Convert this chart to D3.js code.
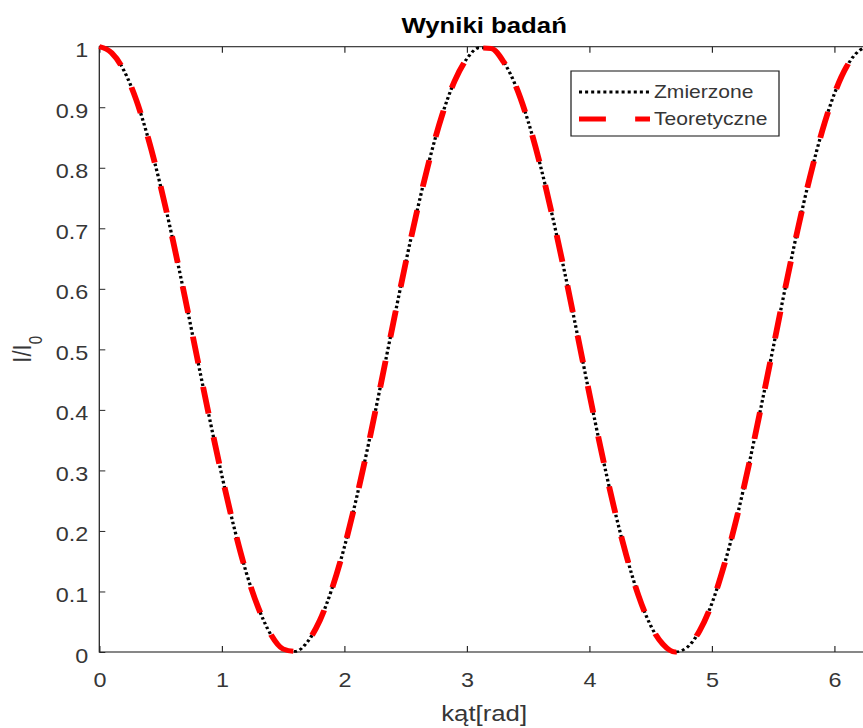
<!DOCTYPE html>
<html lang="pl">
<head>
  <meta charset="UTF-8">
  <title>Wyniki badań</title>
  <style>
    body { margin: 0; background: #fff; }
    svg { display: block; font-family: "Liberation Sans", Arial, Helvetica, sans-serif; }
  </style>
</head>
<body>
  <script src="https://cdn.jsdelivr.net/npm/d3@7/dist/d3.min.js"></script>
  <script>
    // dane
    const katy = [0, 0.1, 0.2, 0.3, 0.4, 0.5, 0.6, 0.7, 0.8, 0.9, 1.0, 1.1, 1.2, 1.3, 1.4, 1.5,
      1.6, 1.7, 1.8, 1.9, 2.0, 2.1, 2.2, 2.3, 2.4, 2.5, 2.6, 2.7, 2.8, 2.9, 3.0, 3.1, 3.2,
      3.3, 3.4, 3.5, 3.6, 3.7, 3.8, 3.9, 4.0, 4.1, 4.2, 4.3, 4.4, 4.5, 4.6, 4.7, 4.8, 4.9,
      5.0, 5.1, 5.2, 5.3, 5.4, 5.5, 5.6, 5.7, 5.8, 5.9, 6.0, 6.1, 6.2, 6.283];
    const zmierzone = [1.000, 0.990, 0.961, 0.913, 0.848, 0.770, 0.681, 0.585, 0.485, 0.386,
      0.292, 0.206, 0.131, 0.072, 0.029, 0.005, 0.001, 0.017, 0.052, 0.105, 0.173, 0.255,
      0.346, 0.444, 0.544, 0.642, 0.734, 0.817, 0.888, 0.943, 0.980, 0.998, 0.997, 0.975,
      0.935, 0.877, 0.804, 0.719, 0.626, 0.527, 0.427, 0.330, 0.240, 0.161, 0.094, 0.044,
      0.013, 0.000, 0.008, 0.035, 0.080, 0.143, 0.219, 0.307, 0.403, 0.502, 0.602, 0.697,
      0.784, 0.860, 0.922, 0.967, 0.993, 1.000];
    const teoretyczne = [1.000, 0.990, 0.961, 0.913, 0.848, 0.770, 0.681, 0.585, 0.485, 0.386,
      0.292, 0.206, 0.131, 0.072, 0.029, 0.005, 0.001, 0.017, 0.052, 0.105, 0.173, 0.255,
      0.346, 0.444, 0.544, 0.642, 0.734, 0.817, 0.888, 0.943, 0.980, 0.998, 0.997, 0.975,
      0.935, 0.877, 0.804, 0.719, 0.626, 0.527, 0.427, 0.330, 0.240, 0.161, 0.094, 0.044,
      0.013, 0.000, 0.008, 0.035, 0.080, 0.143, 0.219, 0.307, 0.403, 0.502, 0.602, 0.697,
      0.784, 0.860, 0.922, 0.967, 0.993, 1.000];
    const xTicks = [0, 1, 2, 3, 4, 5, 6];
    const yTicks = [0, 0.1, 0.2, 0.3, 0.4, 0.5, 0.6, 0.7, 0.8, 0.9, 1];
    const nazwySerii = ['Zmierzone', 'Teoretyczne'];

    const W = 863, H = 728;
    const SX = 1.17; // obraz jest rozciągnięty w poziomie
    const axisColor = '#262626', textColor = '#363636';
    const plot = { left: 99.3 / SX, right: 869 / SX, top: 46.7, bottom: 652 };

    const svg = d3.select('body').append('svg').attr('width', W).attr('height', H);
    const g = svg.append('g').attr('transform', `scale(${SX},1)`);

    const x = d3.scaleLinear().domain(d3.extent(katy)).range([plot.left, plot.right]);
    const y = d3.scaleLinear().domain([0, 1]).range([plot.bottom, plot.top]);

    function styleAxis(sel) {
      sel.select('.domain').remove();
      sel.selectAll('line').attr('stroke', axisColor);
      sel.selectAll('text').attr('fill', textColor).style('font-size', '20px');
    }

    // osie (ticki do środka, jak w MATLABie)
    g.append('g').attr('transform', `translate(0,${plot.bottom})`)
      .call(d3.axisBottom(x).tickValues(xTicks).tickSizeInner(-6).tickSizeOuter(0).tickPadding(21).tickFormat(d3.format('d')))
      .call(styleAxis);
    g.append('g').attr('transform', `translate(0,${plot.top})`)
      .call(d3.axisTop(x).tickValues(xTicks).tickSizeInner(-6).tickSizeOuter(0).tickFormat(''))
      .call(styleAxis);
    g.append('g').attr('transform', `translate(${plot.left},0)`)
      .call(d3.axisLeft(y).tickValues(yTicks).tickSizeInner(-6 / SX).tickSizeOuter(0).tickPadding(9.5).tickFormat(d3.format('~g')))
      .call(styleAxis)
      .call(s => s.selectAll('text').attr('dy', '0.5em'));
    g.append('g').attr('transform', `translate(${plot.right},0)`)
      .call(d3.axisRight(y).tickValues(yTicks).tickSizeInner(-6 / SX).tickSizeOuter(0).tickFormat(''))
      .call(styleAxis);

    // ramka
    g.append('rect')
      .attr('x', plot.left).attr('y', plot.top)
      .attr('width', plot.right - plot.left).attr('height', plot.bottom - plot.top)
      .attr('fill', 'none').attr('stroke', axisColor).attr('stroke-width', 1.1);

    const line = d3.line()
      .x((d, i) => x(katy[i]))
      .y(d => y(d))
      .curve(d3.curveMonotoneX);

    g.append('path').datum(zmierzone)
      .attr('d', line)
      .attr('fill', 'none').attr('stroke', '#000')
      .attr('stroke-width', 2.8).attr('stroke-dasharray', '2.6 2.6');

    g.append('path').datum(teoretyczne)
      .attr('d', line)
      .attr('fill', 'none').attr('stroke', '#ff0000')
      .attr('stroke-width', 5).attr('stroke-dasharray', '27 24');

    // tytuł i opisy osi
    const cx = (plot.left + plot.right) / 2;
    g.append('text').attr('x', cx).attr('y', 33.5)
      .attr('text-anchor', 'middle').attr('font-weight', 'bold')
      .style('font-size', '22px').attr('fill', '#000')
      .text('Wyniki badań');

    g.append('text').attr('x', cx).attr('y', 721)
      .attr('text-anchor', 'middle').style('font-size', '22px').attr('fill', textColor)
      .text('kąt[rad]');

    const yl = g.append('text')
      .attr('transform', `translate(${31 / SX},${(plot.top + plot.bottom) / 2}) rotate(-90)`)
      .attr('text-anchor', 'middle').style('font-size', '22px').attr('fill', textColor);
    yl.append('tspan').text('I/I');
    yl.append('tspan').attr('dy', 9).style('font-size', '15px').text('0');

    // legenda
    const lg = g.append('g');
    lg.append('rect')
      .attr('x', 571 / SX).attr('y', 71)
      .attr('width', (779 - 571) / SX).attr('height', 65)
      .attr('fill', '#fff').attr('stroke', axisColor).attr('stroke-width', 1.1);
    const rows = [
      { name: nazwySerii[0], color: '#000', width: 2.8, dash: '2.6 2.6', yy: 92 },
      { name: nazwySerii[1], color: '#ff0000', width: 5, dash: '23 25', yy: 119 }
    ];
    rows.forEach(r => {
      lg.append('line')
        .attr('x1', 579 / SX).attr('x2', 650 / SX)
        .attr('y1', r.yy).attr('y2', r.yy)
        .attr('stroke', r.color).attr('stroke-width', r.width)
        .attr('stroke-dasharray', r.dash);
      lg.append('text')
        .attr('x', 654 / SX).attr('y', r.yy).attr('dy', '0.35em')
        .style('font-size', '18px').attr('fill', textColor)
        .text(r.name);
    });
  </script>
</body>
</html>
